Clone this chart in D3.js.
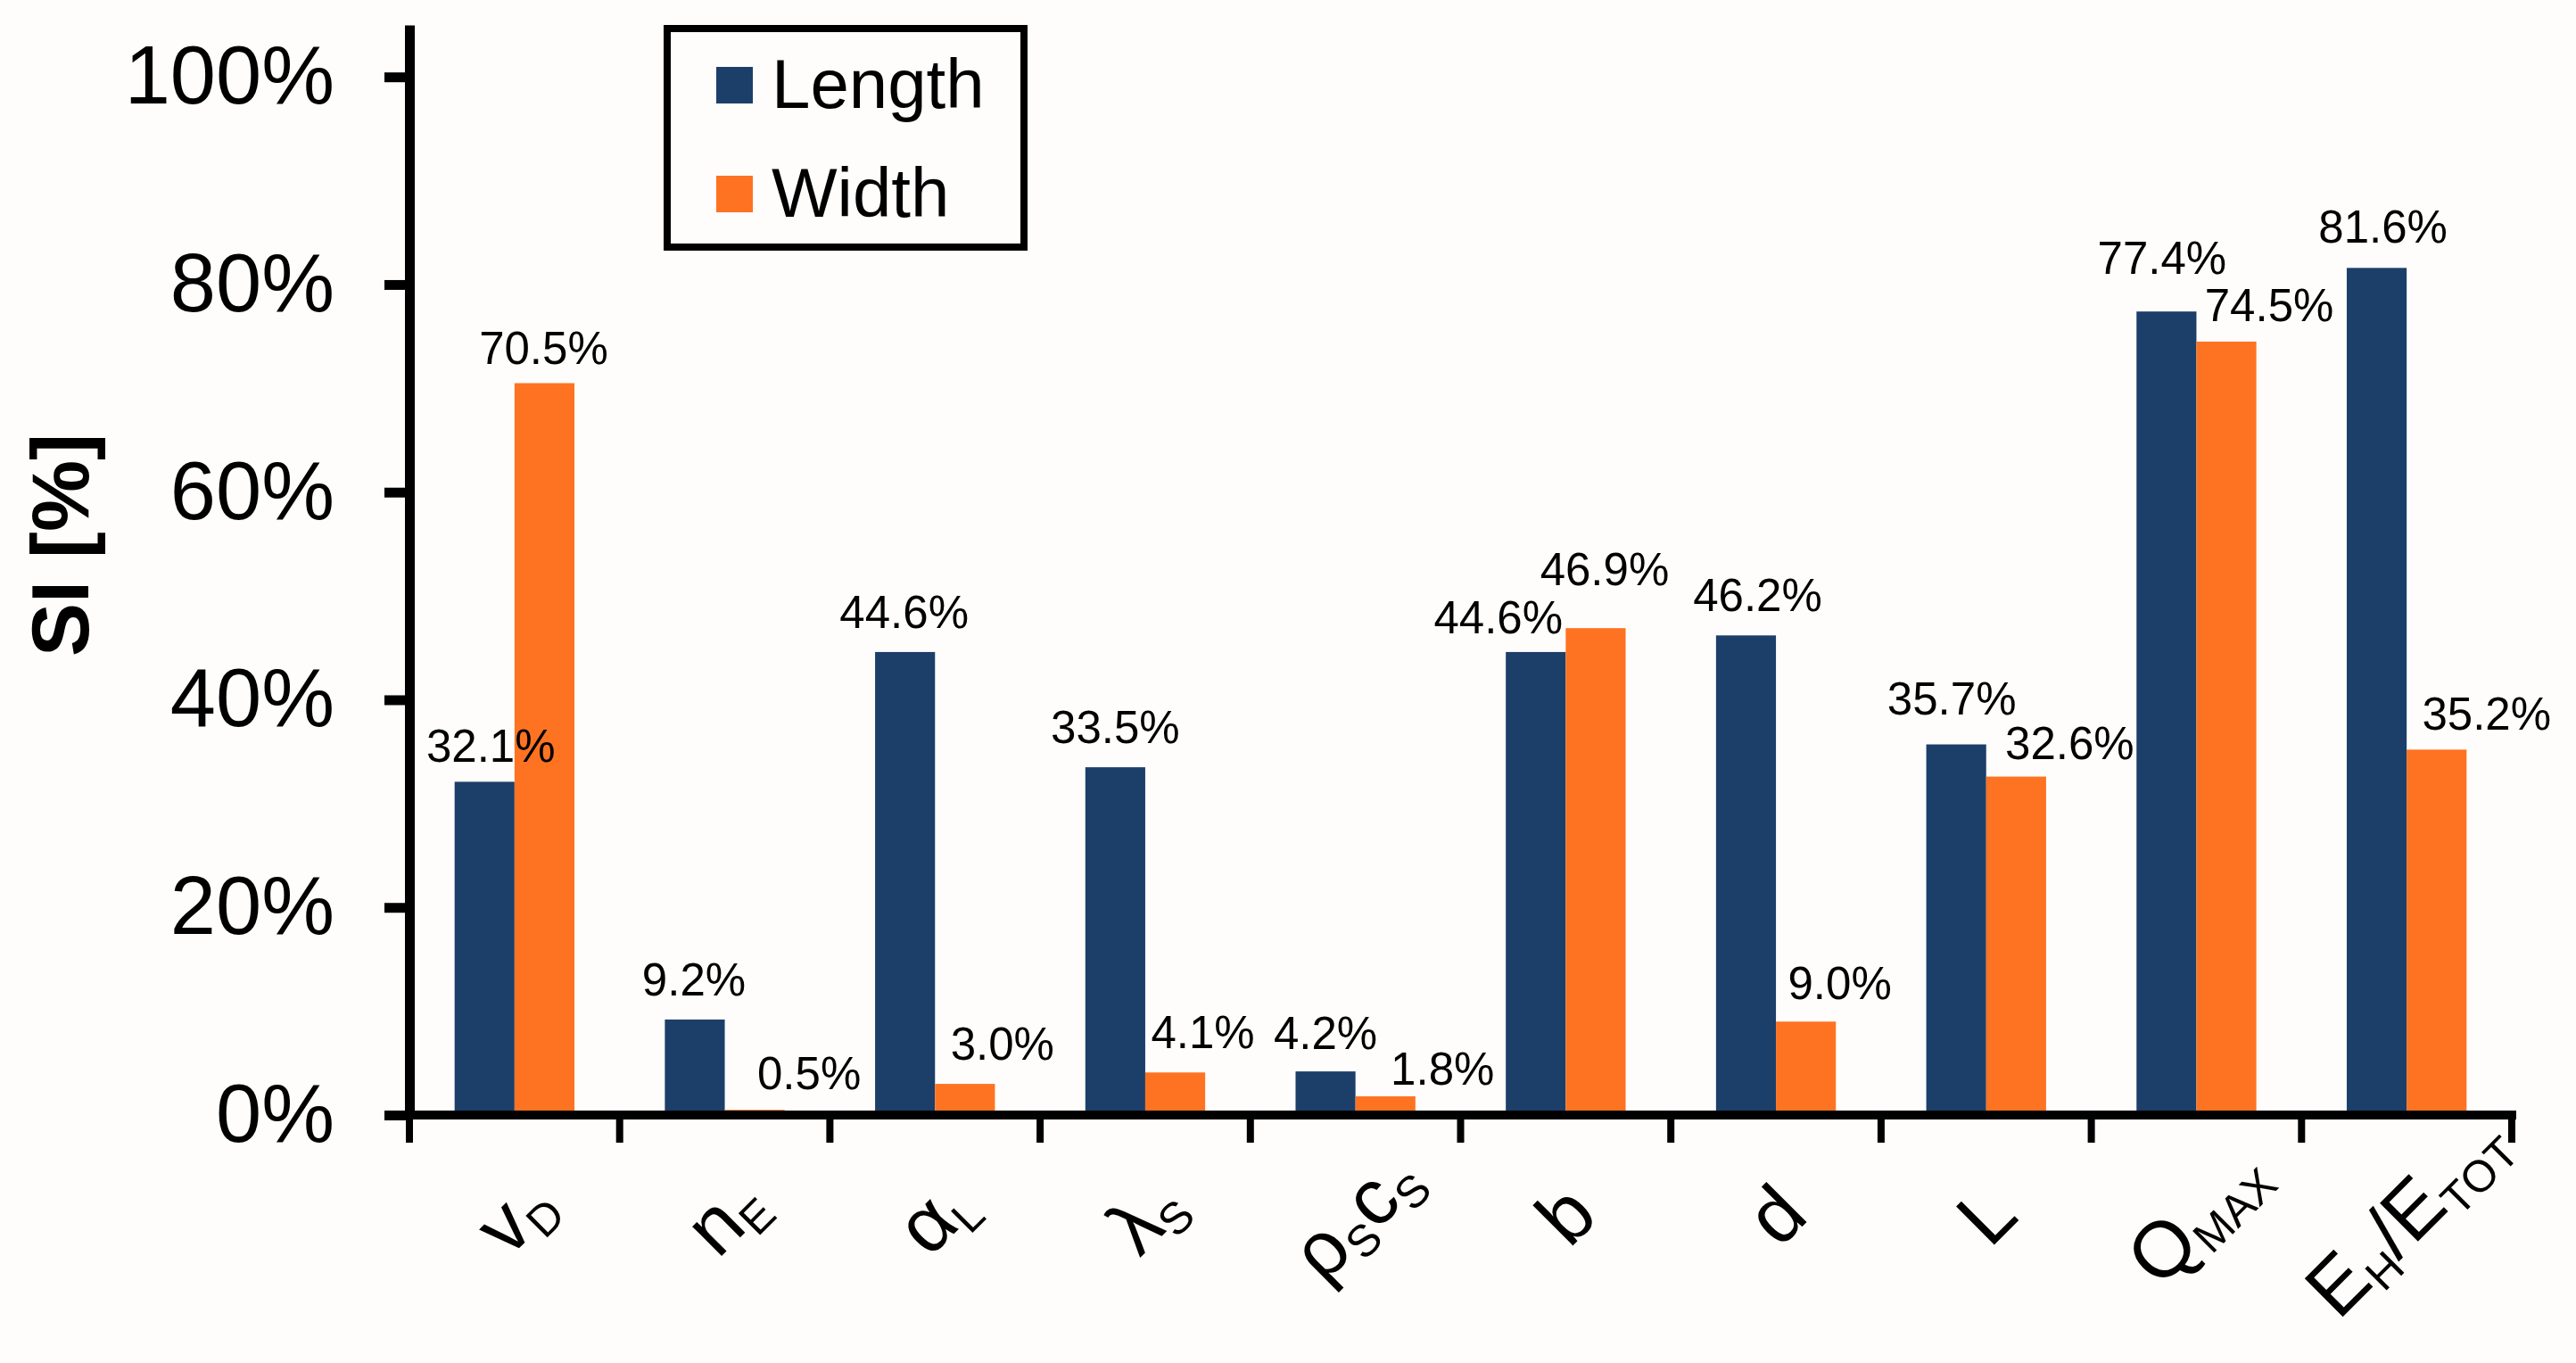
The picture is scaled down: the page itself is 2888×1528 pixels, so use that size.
<!DOCTYPE html>
<html lang="en">
<head>
    <meta charset="UTF-8">
    <title>SI by parameter</title>
    <script src="https://d3js.org/d3.v7.min.js"></script>
    <style>
        body { margin: 0; background: #fefdfc; }
        text { font-family: "Liberation Sans", Arial, Helvetica, sans-serif; fill: #000; }
        .axis path, .axis line { stroke: #000; }
    </style>
</head>
<body>
    <div id="chart"></div>
    <script>
        // data
        var categories = ["vD", "nE", "αL", "λS", "ρScS", "b", "d", "L", "QMAX", "EH/ETOT"];
        // label pieces: [text, isSubscript]
        var catLabels = [
            [["v", 0], ["D", 1]],
            [["n", 0], ["E", 1]],
            [["α", 0], ["L", 1]],
            [["λ", 0], ["S", 1]],
            [["ρ", 0], ["S", 1], ["c", 0], ["S", 1]],
            [["b", 0]],
            [["d", 0]],
            [["L", 0]],
            [["Q", 0], ["MAX", 1]],
            [["E", 0], ["H", 1], ["/E", 0], ["TOT", 1]]
        ];
        var seriesNames = ["Length", "Width"];
        var lengthValues = [32.1, 9.2, 44.6, 33.5, 4.2, 44.6, 46.2, 35.7, 77.4, 81.6];
        var widthValues  = [70.5, 0.5, 3.0, 4.1, 1.8, 46.9, 9.0, 32.6, 74.5, 35.2];
        var yTicks = [0, 0.2, 0.4, 0.6, 0.8, 1.0];

        // hand placed value labels in the original: [dx, extra lift]
        var lengthNudge = [[7, -3], [-1, 2], [-1, 2], [0, 2], [0, 0], [-42, -4], [13, 2], [-5, 9], [-5, 17], [7, 3]];
        var widthNudge  = [[-1, -3], [61, -2], [42, 2], [31, 2], [64, -12], [10, 23], [38, 0], [60, -5], [48, -2], [56, -3]];

        var colors = { Length: "#1c3f6a", Width: "#fe7322" };

        var width = 2888, height = 1528;
        var svg = d3.select("#chart").append("svg")
            .attr("width", width)
            .attr("height", height);

        svg.append("rect").attr("width", width).attr("height", height).attr("fill", "#fefdfc");

        var x0 = d3.scaleBand()
            .domain(categories)
            .range([459, 2816])
            .paddingInner(0.43)
            .paddingOuter(0.215);

        var x1 = d3.scaleBand()
            .domain(seriesNames)
            .range([0, x0.bandwidth()]);

        var y = d3.scaleLinear()
            .domain([0, 1.05])
            .range([1250, 28]);

        var rows = categories.map(function (c, i) {
            return {
                cat: c,
                label: catLabels[i],
                values: [
                    { name: "Length", value: lengthValues[i], nudge: lengthNudge[i] },
                    { name: "Width", value: widthValues[i], nudge: widthNudge[i] }
                ]
            };
        });

        // bars
        var groups = svg.selectAll(".grp")
            .data(rows)
            .enter()
            .append("g")
            .attr("class", "grp")
            .attr("transform", function (d) { return "translate(" + x0(d.cat) + ",0)"; });

        groups.selectAll("rect")
            .data(function (d) { return d.values; })
            .enter()
            .append("rect")
            .attr("x", function (d) { return x1(d.name); })
            .attr("y", function (d) { return y(d.value / 100); })
            .attr("width", x1.bandwidth())
            .attr("height", function (d) { return y(0) - y(d.value / 100); })
            .attr("fill", function (d) { return colors[d.name]; });

        groups.selectAll(".val")
            .data(function (d) { return d.values; })
            .enter()
            .append("text")
            .attr("class", "val")
            .attr("x", function (d) { return x1(d.name) + x1.bandwidth() / 2 + d.nudge[0]; })
            .attr("y", function (d) { return y(d.value / 100) - 25 - d.nudge[1]; })
            .attr("text-anchor", "middle")
            .style("font-size", "51px")
            .text(function (d) { return d.value.toFixed(1) + "%"; });

        // y axis
        var yAxis = svg.append("g")
            .attr("class", "axis")
            .attr("transform", "translate(459,0)")
            .call(d3.axisLeft(y)
                .tickValues(yTicks)
                .tickFormat(d3.format(".0%"))
                .tickSize(28)
                .tickSizeOuter(0)
                .tickPadding(56));
        yAxis.select(".domain").attr("stroke-width", 11);
        yAxis.selectAll(".tick line").attr("stroke-width", 11);
        yAxis.selectAll(".tick text").style("font-size", "92px").attr("fill", "#000");

        // x axis line and boundary ticks
        var x0Start = x0.range()[0];
        var bounds = d3.range(categories.length + 1).map(function (i) { return x0Start + i * x0.step(); });

        svg.append("line")
            .attr("x1", 431).attr("x2", bounds[bounds.length - 1] + 5)
            .attr("y1", y(0)).attr("y2", y(0))
            .attr("stroke", "#000").attr("stroke-width", 10);

        svg.selectAll(".xtick")
            .data(bounds)
            .enter()
            .append("line")
            .attr("class", "xtick")
            .attr("x1", function (d) { return d; }).attr("x2", function (d) { return d; })
            .attr("y1", y(0)).attr("y2", y(0) + 31)
            .attr("stroke", "#000").attr("stroke-width", 8);

        // category labels, rotated with subscripts
        var catText = svg.selectAll(".cat")
            .data(rows)
            .enter()
            .append("text")
            .attr("class", "cat")
            .attr("text-anchor", "middle")
            .attr("y", 30)
            .attr("transform", function (d) {
                return "translate(" + (x0(d.cat) + x0.bandwidth() / 2) + ",1362) rotate(-45)";
            })
            .style("font-size", "88px");

        catText.each(function (d) {
            var t = d3.select(this), shift = 0;
            d.label.forEach(function (p) {
                var want = p[1] ? 14 : 0;
                t.append("tspan")
                    .attr("dy", want - shift)
                    .style("font-size", p[1] ? "50px" : "88px")
                    .text(p[0]);
                shift = want;
            });
        });

        // y title
        svg.append("text")
            .attr("transform", "translate(99,611) rotate(-90)")
            .attr("text-anchor", "middle")
            .style("font-size", "90px")
            .style("font-weight", "bold")
            .text("SI [%]");

        // legend
        var legend = svg.append("g").attr("class", "legend");
        legend.append("rect")
            .attr("x", 748).attr("y", 32)
            .attr("width", 400).attr("height", 245)
            .attr("fill", "none")
            .attr("stroke", "#000")
            .attr("stroke-width", 8);

        var items = legend.selectAll(".item")
            .data(seriesNames)
            .enter()
            .append("g")
            .attr("class", "item")
            .attr("transform", function (d, i) { return "translate(803," + (75 + i * 122) + ")"; });

        items.append("rect")
            .attr("width", 41).attr("height", 41)
            .attr("fill", function (d) { return colors[d]; });

        items.append("text")
            .attr("x", 62).attr("y", 46)
            .style("font-size", "78px")
            .text(function (d) { return d; });
    </script>
</body>
</html>
